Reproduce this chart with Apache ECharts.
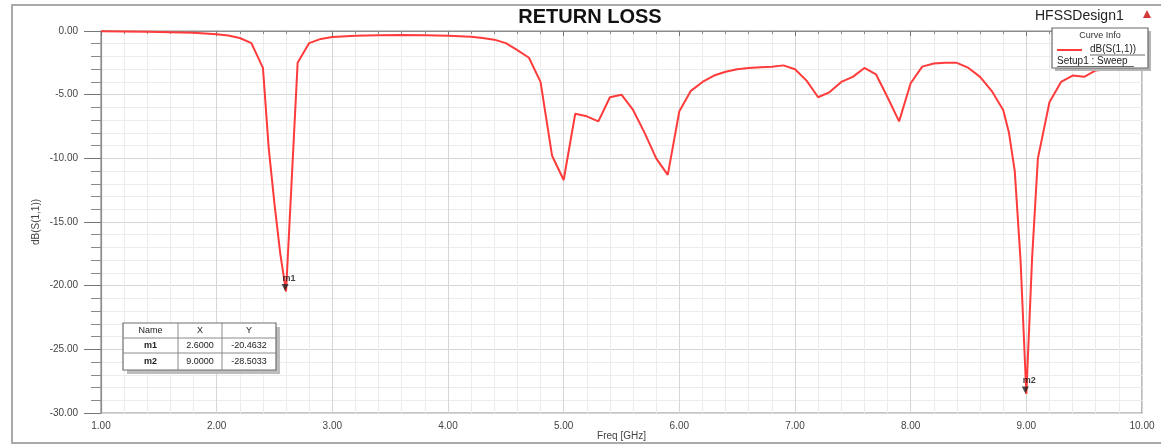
<!DOCTYPE html>
<html>
<head>
<meta charset="utf-8">
<script src="https://cdn.jsdelivr.net/npm/echarts@6/dist/echarts.min.js"></script>
<style>
  html, body { margin: 0; padding: 0; background: #ffffff; }
  #chart { width: 1161px; height: 448px; }
</style>
</head>
<body>
<div id="chart"></div>
<script>
// Swept S11 of the antenna (HFSS, Setup1 : Sweep)
const freqGHz = [
  1.0, 1.2, 1.4, 1.6, 1.8, 2.0, 2.1, 2.2, 2.3, 2.4, 2.45, 2.5, 2.55, 2.6, 2.7, 2.8, 2.9,
  3.0, 3.2, 3.4, 3.6, 3.8, 4.0, 4.2, 4.3, 4.4, 4.5, 4.6, 4.7, 4.8, 4.9,
  5.0, 5.1, 5.2, 5.3, 5.4, 5.5, 5.6, 5.7, 5.8, 5.9,
  6.0, 6.1, 6.2, 6.3, 6.4, 6.5, 6.6, 6.7, 6.8, 6.9,
  7.0, 7.1, 7.2, 7.3, 7.4, 7.5, 7.6, 7.7, 7.8, 7.9,
  8.0, 8.1, 8.2, 8.3, 8.4, 8.5, 8.6, 8.7, 8.8, 8.85, 8.9, 8.95,
  9.0, 9.05, 9.1, 9.2, 9.3, 9.4, 9.5, 9.6, 9.7, 9.8, 9.9, 10.0
];
const s11dB = [
  -0.02, -0.04, -0.06, -0.09, -0.13, -0.25, -0.36, -0.55, -0.95, -2.9, -9.2, -13.6, -17.5, -20.4632, -2.5, -0.95, -0.62,
  -0.47, -0.38, -0.33, -0.32, -0.34, -0.38, -0.46, -0.55, -0.68, -0.95, -1.5, -2.1, -4.0, -9.8,
  -11.7, -6.5, -6.7, -7.1, -5.2, -5.0, -6.2, -8.0, -10.0, -11.3,
  -6.3, -4.7, -4.0, -3.5, -3.2, -3.0, -2.9, -2.85, -2.8, -2.7,
  -3.0, -3.9, -5.2, -4.8, -4.0, -3.6, -2.9, -3.4, -5.2, -7.1,
  -4.1, -2.8, -2.55, -2.5, -2.5, -2.9, -3.6, -4.7, -6.2, -8.0, -11.0, -18.0,
  -28.5033, -17.8, -10.0, -5.6, -4.0, -3.5, -3.6, -3.1, -3.0, -2.9, -2.7, -2.5
];

// Markers placed on the trace
const markerNames = ['m1', 'm2'];
const markerFreq = [2.6, 9.0];
const markerDB = [-20.4632, -28.5033];

// Axis ranges and tick steps
const freqMin = 1, freqMax = 10, freqStep = 1;
const dbMin = -30, dbMax = 0, dbStep = 5;

const FONT = '"Liberation Sans", Arial, sans-serif';

const trace = freqGHz.map((f, i) => [f, s11dB[i]]);
const markerPts = markerNames.map((n, i) => ({ name: n, value: [markerFreq[i], markerDB[i]] }));

// Marker table (Name / X / Y)
const tbl = { x: 123, y: 323 };
const tableEls = [];
tableEls.push({ type: 'rect', shape: { x: tbl.x + 4, y: tbl.y + 4, width: 153, height: 47 }, style: { fill: '#bdbdbd' }, z: 10 });
tableEls.push({ type: 'rect', shape: { x: tbl.x, y: tbl.y, width: 153, height: 47 }, style: { fill: '#ffffff', stroke: '#6e6e6e', lineWidth: 1.2 }, z: 11 });
[178, 222].forEach(cx => tableEls.push({ type: 'line', shape: { x1: cx, y1: 323, x2: cx, y2: 370 }, style: { stroke: '#8a8a8a', lineWidth: 1 }, z: 12 }));
[338, 353].forEach(ry => tableEls.push({ type: 'line', shape: { x1: 123, y1: ry, x2: 276, y2: ry }, style: { stroke: '#8a8a8a', lineWidth: 1 }, z: 12 }));
const headers = ['Name', 'X', 'Y'];
const colCenters = [150.5, 200, 249];
const rowCenters = [331, 346, 362];
headers.forEach((h, c) => tableEls.push({
  type: 'text', x: colCenters[c], y: rowCenters[0], z: 13,
  style: { text: h, font: '9px ' + FONT, fill: '#222', align: 'center', verticalAlign: 'middle' }
}));
markerNames.forEach((n, r) => {
  const cells = [n, markerFreq[r].toFixed(4), markerDB[r].toFixed(4)];
  cells.forEach((t, c) => tableEls.push({
    type: 'text', x: colCenters[c], y: rowCenters[r + 1], z: 13,
    style: { text: t, font: (c === 0 ? 'bold ' : '') + '9px ' + FONT, fill: '#222', align: 'center', verticalAlign: 'middle' }
  }));
});

// Curve Info box
const legendEls = [
  { type: 'rect', shape: { x: 1055, y: 31, width: 96, height: 40 }, style: { fill: '#b5b5b5' }, z: 10 },
  { type: 'rect', shape: { x: 1052, y: 28, width: 96, height: 40 }, style: { fill: '#ffffff', stroke: '#6a6a6a', lineWidth: 1.2 }, z: 11 },
  { type: 'text', x: 1100, y: 36, z: 12, style: { text: 'Curve Info', font: '9px ' + FONT, fill: '#333', align: 'center', verticalAlign: 'middle' } },
  { type: 'line', shape: { x1: 1057, y1: 50, x2: 1082, y2: 50 }, style: { stroke: '#ff3b3b', lineWidth: 2 }, z: 12 },
  { type: 'text', x: 1090, y: 49, z: 12, style: { text: 'dB(S(1,1))', font: '10px ' + FONT, fill: '#222', align: 'left', verticalAlign: 'middle' } },
  { type: 'line', shape: { x1: 1090, y1: 55, x2: 1145, y2: 55 }, style: { stroke: '#444', lineWidth: 0.8 }, z: 12 },
  { type: 'text', x: 1057, y: 61, z: 12, style: { text: 'Setup1 : Sweep', font: '10px ' + FONT, fill: '#222', align: 'left', verticalAlign: 'middle' } },
  { type: 'line', shape: { x1: 1057, y1: 66.5, x2: 1134, y2: 66.5 }, style: { stroke: '#444', lineWidth: 0.8 }, z: 12 }
];

const chart = echarts.init(document.getElementById('chart'), null, { renderer: 'canvas' });

chart.setOption({
  animation: false,
  backgroundColor: '#ffffff',
  textStyle: { fontFamily: FONT },
  grid: {
    left: 101, right: 19, top: 31, bottom: 35,
    containLabel: false, outerBoundsMode: 'none',
    show: true, borderColor: '#8c8c8c', borderWidth: 1.2
  },
  xAxis: {
    type: 'value',
    min: freqMin, max: freqMax, interval: freqStep,
    name: 'Freq [GHz]', nameLocation: 'middle', nameGap: 18, nameMoveOverlap: false,
    nameTextStyle: { fontSize: 10, color: '#444', fontFamily: FONT },
    axisLine: { show: true, lineStyle: { color: '#8c8c8c', width: 1.2 } },
    axisTick: { show: true, length: 5, lineStyle: { color: '#777' } },
    minorTick: { show: true, splitNumber: 5, length: 3, lineStyle: { color: '#888' } },
    axisLabel: { fontSize: 10, color: '#444', margin: 8, formatter: v => v.toFixed(2) },
    splitLine: { show: true, lineStyle: { color: '#d6d6d6', width: 1 } },
    minorSplitLine: { show: true, lineStyle: { color: '#ececec', width: 1 } }
  },
  yAxis: {
    type: 'value',
    min: dbMin, max: dbMax, interval: dbStep,
    name: 'dB(S(1,1))', nameLocation: 'middle', nameGap: 60, nameRotate: 90, nameMoveOverlap: false,
    nameTextStyle: { fontSize: 10, color: '#444', fontFamily: FONT },
    axisLine: { show: true, lineStyle: { color: '#8c8c8c', width: 1.2 } },
    axisTick: { show: true, length: 17, lineStyle: { color: '#777' } },
    minorTick: { show: true, splitNumber: 5, length: 10, lineStyle: { color: '#888' } },
    axisLabel: { fontSize: 10, color: '#444', margin: 23, formatter: v => v.toFixed(2) },
    splitLine: { show: true, lineStyle: { color: '#d6d6d6', width: 1 } },
    minorSplitLine: { show: true, lineStyle: { color: '#ececec', width: 1 } }
  },
  series: [
    {
      name: 'dB(S(1,1))',
      type: 'line',
      data: trace,
      showSymbol: false,
      symbol: 'none',
      lineStyle: { color: '#ff3b3b', width: 2 },
      z: 3
    },
    {
      name: 'markers',
      type: 'scatter',
      data: markerPts,
      symbol: 'triangle',
      symbolRotate: 180,
      symbolSize: 7,
      symbolOffset: [-1, -4],
      itemStyle: { color: '#222' },
      label: {
        show: true, formatter: p => p.name, position: 'top', distance: 3, offset: [4, 2],
        fontSize: 9, fontWeight: 'bold', color: '#111', fontFamily: FONT
      },
      z: 5
    }
  ],
  graphic: [
    // outer frame
    { type: 'rect', shape: { x: 12, y: 5, width: 1152, height: 438 }, style: { fill: 'none', stroke: '#a9a9a9', lineWidth: 2 }, z: 1 },
    { type: 'text', x: 590, y: 17, z: 5, style: { text: 'RETURN LOSS', font: 'bold 20px ' + FONT, fill: '#111', align: 'center', verticalAlign: 'middle' } },
    { type: 'text', x: 1035, y: 16, z: 5, style: { text: 'HFSSDesign1', font: '14px ' + FONT, fill: '#222', align: 'left', verticalAlign: 'middle' } },
    { type: 'polygon', shape: { points: [[1143, 18], [1151, 18], [1147, 10]] }, style: { fill: '#d23a3a' }, z: 5 },
    ...legendEls,
    ...tableEls
  ]
});
</script>
</body>
</html>
